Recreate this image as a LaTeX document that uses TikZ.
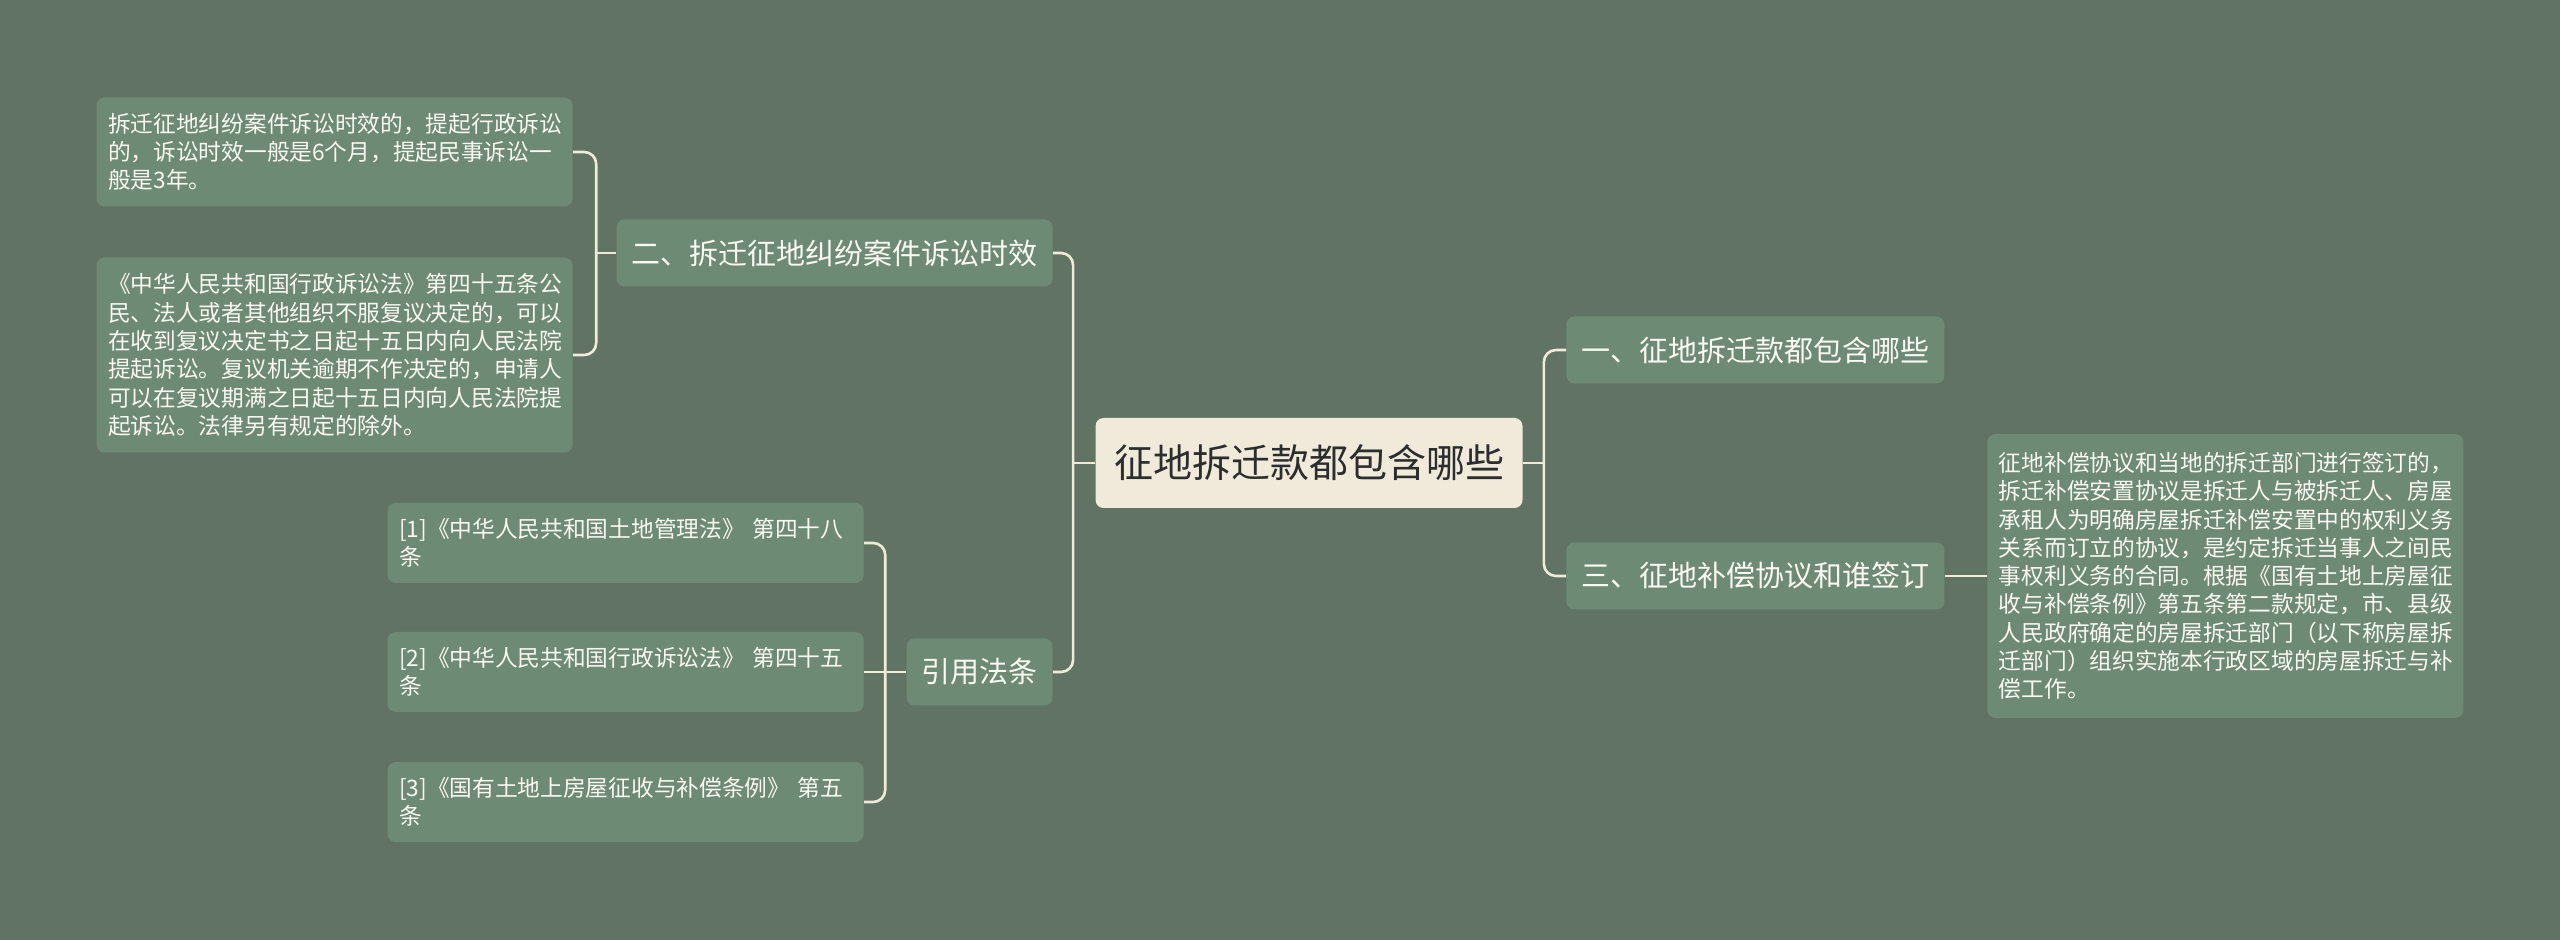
\documentclass[tikz,border=0pt]{standalone}
\usepackage{fontspec}
\setmainfont{Noto Sans CJK SC}
\definecolor{bgcol}{RGB}{97,116,99}
\definecolor{boxcol}{RGB}{109,139,116}
\definecolor{rootcol}{RGB}{239,234,218}
\definecolor{linecol}{RGB}{239,234,218}
\definecolor{rootink}{RGB}{45,45,45}
\definecolor{boxink}{RGB}{250,248,240}

\begin{document}
\begin{tikzpicture}[x=0.5pt,y=-0.5pt,
    rootbox/.style={fill=rootcol,text=rootink,rounded corners=4pt,
      font=\fontsize{19.5}{24}\selectfont,minimum width=213.5pt,minimum height=45pt,inner sep=0pt},
    topicbox/.style={fill=boxcol,text=boxink,rounded corners=4pt,
      font=\fontsize{14.5}{18}\selectfont,minimum height=33.5pt,inner xsep=7.5pt,inner ysep=0pt},
    leafbox/.style={fill=boxcol,text=boxink,rounded corners=4pt,
      font=\fontsize{11.35}{14.15}\selectfont,text width=226.5pt,inner xsep=5.75pt,inner ysep=0pt,align=left},
    branch/.style={draw=linecol,line width=1.3pt,rounded corners=6pt}]
  \fill[bgcol] (0,0) rectangle (2560,940);
  \useasboundingbox (0,0) rectangle (2560,940);

  \node[rootbox] (root) at (1309,463) {征地拆迁款都包含哪些};
  \node[topicbox,anchor=west] (t1) at (1566,350) {一、征地拆迁款都包含哪些};
  \node[topicbox,anchor=west] (t3) at (1566,576) {三、征地补偿协议和谁签订};
  \node[topicbox,anchor=east] (t2) at (1053,253) {二、拆迁征地纠纷案件诉讼时效};
  \node[topicbox,anchor=east] (cite) at (1053,672) {引用法条};

  \node[leafbox,anchor=east,minimum height=54.5pt] (limit) at (573,152)
    {拆迁征地纠纷案件诉讼时效的，提起行政诉讼\\的，诉讼时效一般是6个月，提起民事诉讼一\\般是3年。};
  \node[leafbox,anchor=east,minimum height=97.5pt] (review) at (573,355)
    {《中华人民共和国行政诉讼法》第四十五条公\\民、法人或者其他组织不服复议决定的，可以\\在收到复议决定书之日起十五日内向人民法院\\提起诉讼。复议机关逾期不作决定的，申请人\\可以在复议期满之日起十五日内向人民法院提\\起诉讼。法律另有规定的除外。};
  \node[leafbox,anchor=east,minimum height=40pt] (law1) at (864,543)
    {[1]《中华人民共和国土地管理法》 第四十八\\条};
  \node[leafbox,anchor=east,minimum height=40pt] (law2) at (864,672)
    {[2]《中华人民共和国行政诉讼法》 第四十五\\条};
  \node[leafbox,anchor=east,minimum height=40pt] (law3) at (864,802)
    {[3]《国有土地上房屋征收与补偿条例》 第五\\条};
  \node[leafbox,anchor=west,minimum height=142pt] (sign) at (1987,576)
    {征地补偿协议和当地的拆迁部门进行签订的，\\拆迁补偿安置协议是拆迁人与被拆迁人、房屋\\承租人为明确房屋拆迁补偿安置中的权利义务\\关系而订立的协议，是约定拆迁当事人之间民\\事权利义务的合同。根据《国有土地上房屋征\\收与补偿条例》第五条第二款规定，市、县级\\人民政府确定的房屋拆迁部门（以下称房屋拆\\迁部门）组织实施本行政区域的房屋拆迁与补\\偿工作。};

  \path (root.east) ++(21,0) coordinate (rr);
  \path (root.west) ++(-22,0) coordinate (rl);
  \path (t2.west) ++(-20,0) coordinate (j2);
  \path (cite.west) ++(-21,0) coordinate (jc);

  \draw[branch] (root.east) -- (rr);
  \draw[branch] (rr) |- (t1.west);
  \draw[branch] (rr) |- (t3.west);
  \draw[branch] (root.west) -- (rl);
  \draw[branch] (rl) |- (t2.east);
  \draw[branch] (rl) |- (cite.east);
  \draw[branch] (t2.west) -- (j2);
  \draw[branch] (j2) |- (limit.east);
  \draw[branch] (j2) |- (review.east);
  \draw[branch] (cite.west) -- (jc);
  \draw[branch] (jc) |- (law1.east);
  \draw[branch] (jc) -- (law2.east);
  \draw[branch] (jc) |- (law3.east);
  \draw[branch] (t3.east) -- (sign.west);
\end{tikzpicture}
\end{document}
